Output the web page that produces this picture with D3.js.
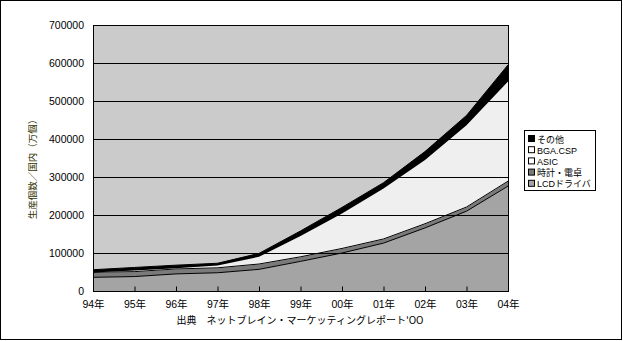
<!DOCTYPE html>
<html>
<head>
<meta charset="utf-8">
<script src="https://cdnjs.cloudflare.com/ajax/libs/d3/7.8.5/d3.min.js"></script>
<style>
body { margin: 0; background: #fff; }
text { font-family: "Liberation Sans", "Noto Sans CJK JP", Arial, sans-serif; }
</style>
</head>
<body>
<div id="chart"></div>
<script>
// data (units: 万個)
var years = ["94年", "95年", "96年", "97年", "98年", "99年", "00年", "01年", "02年", "03年", "04年"];
var lcdDriver = [36000, 38000, 45000, 48000, 57000, 78000, 100000, 126000, 166000, 210000, 276000];
var clockCalc = [13000, 13000, 13000, 13000, 14000, 12000, 12000, 11000, 11000, 11000, 13000];
var asic = [0, 2000, 1000, 4000, 12000, 33000, 55000, 78000, 98000, 122000, 145000];
var bgaCsp = [0, 1000, 1000, 2000, 7000, 22000, 37000, 55000, 70000, 93000, 117000];
var others = [7000, 8000, 8000, 6000, 9000, 13000, 16000, 15000, 22000, 26000, 44000];
var yTicks = [0, 100000, 200000, 300000, 400000, 500000, 600000, 700000];

var seriesNames = ["LCDドライバ", "時計・電卓", "ASIC", "BGA.CSP", "その他"];
var seriesValues = [lcdDriver, clockCalc, asic, bgaCsp, others];
var seriesFill = ["#a4a4a4", "#7a7a7a", "#efefef", "#efefef", "#000000"];
var seriesStroke = ["#000", "#000", "none", "none", "#000"];

var width = 623;
var height = 341;

// plot area box
var plotL = 93, plotR = 508, plotT = 25, plotB = 291;

var svg = d3.select("#chart")
  .append("svg")
  .attr("width", width)
  .attr("height", height);

// outer frame
svg.append("rect")
  .attr("x", 0.5).attr("y", 0.5)
  .attr("width", width - 2).attr("height", height - 2)
  .attr("fill", "#fff")
  .attr("stroke", "#000");

// build rows for d3.stack
var rows = years.map(function(y, i) {
  var row = { year: y };
  seriesNames.forEach(function(n, k) { row[n] = seriesValues[k][i]; });
  return row;
});
var stacked = d3.stack().keys(seriesNames)(rows);

var xScale = d3.scalePoint().domain(years).range([plotL, plotR]);
var yScale = d3.scaleLinear().domain([0, 700000]).range([plotB, plotT]);

// plot background
svg.append("rect")
  .attr("x", plotL).attr("y", plotT)
  .attr("width", plotR - plotL).attr("height", plotB - plotT)
  .attr("fill", "#cbcbcb");

// areas
var area = d3.area()
  .x(function(d) { return xScale(d.data.year); })
  .y0(function(d) { return yScale(d[0]); })
  .y1(function(d) { return yScale(d[1]); });

svg.selectAll(".layer")
  .data(stacked)
  .enter()
  .append("path")
  .attr("class", "layer")
  .attr("d", area)
  .attr("fill", function(d, i) { return seriesFill[i]; })
  // hide the seam between the two light layers
  .attr("stroke", function(d, i) { return seriesStroke[i] === "none" ? seriesFill[i] : "none"; })
  .attr("stroke-width", 0.8);

// top edge lines of each layer
var topLine = d3.line()
  .x(function(d) { return xScale(d.data.year); })
  .y(function(d) { return yScale(d[1]); });

svg.selectAll(".edge")
  .data(stacked)
  .enter()
  .append("path")
  .attr("class", "edge")
  .attr("d", topLine)
  .attr("fill", "none")
  .attr("stroke", function(d, i) { return seriesStroke[i]; })
  .attr("stroke-width", 1);

// gridlines on top
svg.selectAll(".grid")
  .data(yTicks.slice(1))
  .enter()
  .append("line")
  .attr("x1", plotL).attr("x2", plotR)
  .attr("y1", function(d) { return Math.round(yScale(d)) + 0.5; })
  .attr("y2", function(d) { return Math.round(yScale(d)) + 0.5; })
  .attr("stroke", "#000");

// plot border
svg.append("rect")
  .attr("x", plotL + 0.5).attr("y", plotT + 0.5)
  .attr("width", plotR - plotL).attr("height", plotB - plotT)
  .attr("fill", "none")
  .attr("stroke", "#000");

// x axis with inside ticks
var xAxis = d3.axisBottom(xScale).tickSize(-5).tickPadding(9);
var gx = svg.append("g")
  .attr("transform", "translate(0," + (plotB + 0.5) + ")")
  .call(xAxis);
gx.select(".domain").remove();
gx.selectAll("line").attr("stroke", "#000");
gx.selectAll("text")
  .attr("font-size", "10.5px")
  .attr("fill", "#000")
  .attr("font-family", "'Liberation Sans', 'Noto Sans CJK JP', sans-serif");

// y axis labels
var yAxis = d3.axisLeft(yScale).tickValues(yTicks).tickSize(0).tickPadding(9)
  .tickFormat(d3.format("d"));
var gy = svg.append("g")
  .attr("transform", "translate(" + plotL + ",0)")
  .call(yAxis);
gy.select(".domain").remove();
gy.selectAll("text")
  .attr("font-size", "10.5px")
  .attr("fill", "#000");

// y title
svg.append("text")
  .attr("transform", "translate(36,167)rotate(-90)")
  .attr("text-anchor", "middle")
  .attr("font-size", "9.5px")
  .attr("fill", "#333300")
  .style("font-family", "'Noto Sans CJK JP', sans-serif")
  .text("生産個数／国内（万個）");

// x title
svg.append("text")
  .attr("x", 300)
  .attr("y", 324)
  .attr("text-anchor", "middle")
  .attr("font-size", "10px")
  .attr("fill", "#000")
  .style("font-family", "'Noto Sans CJK JP', sans-serif")
  .text("出典　ネットブレイン・マーケッティングレポート'OO");

// legend
var legend = svg.append("g").attr("transform", "translate(524,130)");
legend.append("rect")
  .attr("x", 0.5).attr("y", 0.5)
  .attr("width", 71).attr("height", 60)
  .attr("fill", "#fff")
  .attr("stroke", "#000");

var legendOrder = [4, 3, 2, 1, 0];
var items = legend.selectAll(".item")
  .data(legendOrder)
  .enter()
  .append("g")
  .attr("transform", function(d, i) { return "translate(4," + (5 + i * 11.2) + ")"; });

items.append("rect")
  .attr("x", 0.5).attr("y", 0.5)
  .attr("width", 6).attr("height", 6)
  .attr("fill", function(d) { return d === 2 || d === 3 ? "#fff" : seriesFill[d]; })
  .attr("stroke", "#000");

items.append("text")
  .attr("x", 9)
  .attr("y", 7.5)
  .attr("font-size", "9px")
  .attr("fill", "#000")
  .style("font-family", "'Liberation Sans', 'Noto Sans CJK JP', sans-serif")
  .text(function(d) { return seriesNames[d]; });
</script>
</body>
</html>
